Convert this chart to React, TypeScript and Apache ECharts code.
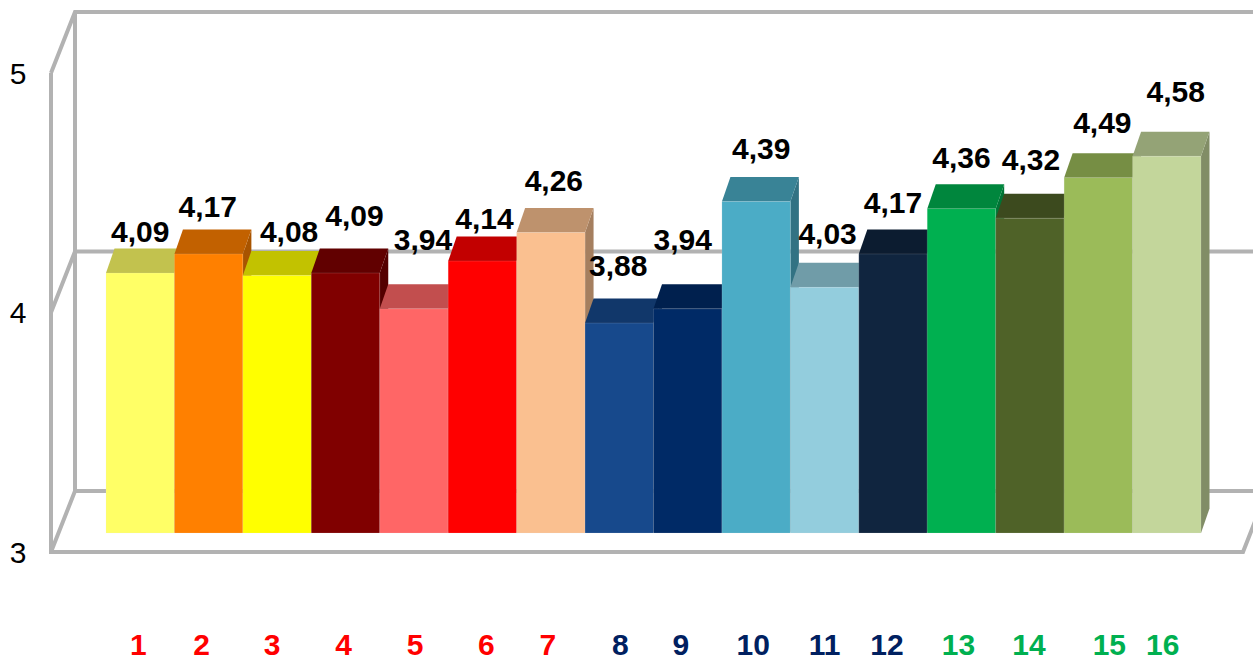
import React, { useEffect, useRef } from "react";
import * as echarts from "echarts";

const categories = ["1", "2", "3", "4", "5", "6", "7", "8", "9", "10", "11", "12", "13", "14", "15", "16"];
const scores = [4.09, 4.17, 4.08, 4.09, 3.94, 4.14, 4.26, 3.88, 3.94, 4.39, 4.03, 4.17, 4.36, 4.32, 4.49, 4.58];
const barColors = [
  "#FFFF66", "#FF8000", "#FFFF00", "#800000", "#FF6666", "#FF0000", "#FAC090", "#17498C",
  "#002A66", "#4BACC6", "#93CDDD", "#10253F", "#00B050", "#4F6228", "#9BBB59", "#C3D69B",
];
const categoryColors = [
  "#FF0000", "#FF0000", "#FF0000", "#FF0000", "#FF0000", "#FF0000", "#FF0000",
  "#002060", "#002060", "#002060", "#002060", "#002060",
  "#00B050", "#00B050", "#00B050", "#00B050",
];
const axisTicks = [3, 4, 5];

// Hand placement of the texts, in pixels from where the scales put them.
const categoryNudge = [-2, -7, -5, -2, 1, 4, -3, 1, -7, -3, 0, -6, -3, -1, 11, -4];
const labelShiftX = [0, -1, 12, 9, 9, 2, 3, -1, -5, 5, 3, 0, 0, 1, 4, 9];
const labelGap = [42, 47, 44, 58, 69, 43, 52, 58, 69, 53, 54, 51, 51, 59, 55, 65];

// Depth of the bars and of the chart box, as drawn in oblique projection.
const BAR_DX = 8.5;
const BAR_DY = 24.5;
const WALL_DX = 24;
const WALL_DY = 61;
const WALL_COLOR = "#b2b2b2";
const WALL_WIDTH = 4;
const TEXT_SIZE = 30;
const FONT = '"Liberation Sans", Arial, sans-serif';

function shade(hex: string, k: number) {
  const n = parseInt(hex.slice(1), 16);
  const c = [(n >> 16) & 255, (n >> 8) & 255, n & 255].map((v) => Math.round(v * k));
  return `rgb(${c[0]},${c[1]},${c[2]})`;
}

const renderBar = (params: any, api: any) => {
  const i = api.value(0);
  const band = api.size([1, 0])[0];
  const [cx, top] = api.coord([i, api.value(1)]);
  const [, base] = api.coord([i, 3]);
  const l = cx - band / 2;
  const r = cx + band / 2;
  const color = barColors[i];
  return {
    type: "group",
    children: [
      {
        type: "polygon",
        shape: { points: [[r, base], [r + BAR_DX, base - BAR_DY], [r + BAR_DX, top - BAR_DY], [r, top]] },
        style: { fill: shade(color, 0.66) },
      },
      {
        type: "polygon",
        shape: { points: [[l, top], [l + BAR_DX, top - BAR_DY], [r + BAR_DX, top - BAR_DY], [r, top]] },
        style: { fill: shade(color, 0.76) },
      },
      {
        type: "rect",
        shape: { x: l, y: top, width: band, height: base - top },
        style: { fill: color, stroke: "rgba(225,225,225,0.15)", lineWidth: 1 },
      },
    ],
  };
};

const renderValueLabel = (params: any, api: any) => {
  const i = api.value(0);
  const value = api.value(1);
  const [cx, top] = api.coord([i, value]);
  return {
    type: "text",
    style: {
      x: cx + labelShiftX[i],
      y: top - labelGap[i],
      text: value.toFixed(2).replace(".", ","),
      fill: "#000",
      font: `bold ${TEXT_SIZE}px ${FONT}`,
      align: "center",
      verticalAlign: "middle",
    },
  };
};

// One horizontal rule per axis tick: front edge of the left wall, then across the back wall.
const renderWallRule = (params: any, api: any) => {
  const v = api.value(0);
  const [x0, y0] = api.coord([0, v]);
  const [x1] = api.coord([1, v]);
  return {
    type: "polyline",
    shape: { points: [[x0, y0], [x0 + WALL_DX, y0 - WALL_DY], [x1 + WALL_DX, y0 - WALL_DY]] },
    style: { stroke: WALL_COLOR, lineWidth: WALL_WIDTH, fill: "none" },
  };
};

// Verticals of the left wall and the front edge of the floor.
const renderFrame = (params: any, api: any) => {
  const [xl, yBottom] = api.coord([0, 3]);
  const [xr] = api.coord([1, 3]);
  const [, yTop] = api.coord([0, 5]);
  const line = { stroke: WALL_COLOR, lineWidth: WALL_WIDTH, fill: "none" };
  return {
    type: "group",
    children: [
      { type: "polyline", shape: { points: [[xl, yTop], [xl, yBottom], [xr, yBottom], [xr + WALL_DX, yBottom - WALL_DY]] }, style: line },
      { type: "polyline", shape: { points: [[xl + WALL_DX, yTop - WALL_DY], [xl + WALL_DX, yBottom - WALL_DY]] }, style: line },
    ],
  };
};

export default function App() {
  const ref = useRef<HTMLDivElement>(null);

  useEffect(() => {
    document.body.style.margin = "0";
    document.body.style.overflow = "hidden";
    const chart = echarts.init(ref.current!, undefined, { renderer: "svg" });
    const points = scores.map((v, i) => [i, v]);
    chart.setOption({
      animation: false,
      backgroundColor: "#ffffff",
      grid: [
        { left: 106, top: 56, width: 1095, height: 477, outerBoundsMode: "none" },
        { left: 51, top: 73, width: 1192, height: 479, outerBoundsMode: "none" },
      ],
      xAxis: [
        {
          type: "category",
          gridIndex: 0,
          data: categories.map((c, i) => {
            const n = categoryNudge[i];
            return {
              value: c,
              textStyle: {
                color: categoryColors[i],
                padding: n >= 0 ? [0, 0, 0, 2 * n] : [0, -2 * n, 0, 0],
              },
            };
          }),
          axisLine: { show: false },
          axisTick: { show: false },
          axisLabel: {
            interval: 0,
            margin: 100,
            lineHeight: 22,
            fontFamily: FONT,
            fontWeight: "bold",
            fontSize: TEXT_SIZE,
          },
        },
        { type: "value", gridIndex: 1, min: 0, max: 1, show: false },
      ],
      yAxis: [
        { type: "value", gridIndex: 0, min: 3, max: 5, show: false },
        {
          type: "value",
          gridIndex: 1,
          min: 3,
          max: 5,
          interval: 1,
          axisLine: { show: false },
          axisTick: { show: false },
          splitLine: { show: false },
          axisLabel: {
            margin: 33,
            align: "center",
            color: "#000",
            fontFamily: FONT,
            fontSize: TEXT_SIZE,
          },
        },
      ],
      series: [
        {
          type: "custom",
          xAxisIndex: 1,
          yAxisIndex: 1,
          clip: false,
          z: 1,
          data: axisTicks.map((v) => [v]),
          encode: { y: 0 },
          renderItem: renderWallRule,
          silent: true,
        },
        {
          type: "custom",
          xAxisIndex: 1,
          yAxisIndex: 1,
          clip: false,
          z: 1,
          data: [[0, 3]],
          renderItem: renderFrame,
          silent: true,
        },
        {
          type: "custom",
          xAxisIndex: 0,
          yAxisIndex: 0,
          clip: false,
          z: 2,
          data: points,
          renderItem: renderBar,
          silent: true,
        },
        {
          type: "custom",
          xAxisIndex: 0,
          yAxisIndex: 0,
          clip: false,
          z: 3,
          data: points,
          renderItem: renderValueLabel,
          silent: true,
        },
      ],
    });
    return () => chart.dispose();
  }, []);

  return <div ref={ref} style={{ width: 1253, height: 656 }} />;
}
